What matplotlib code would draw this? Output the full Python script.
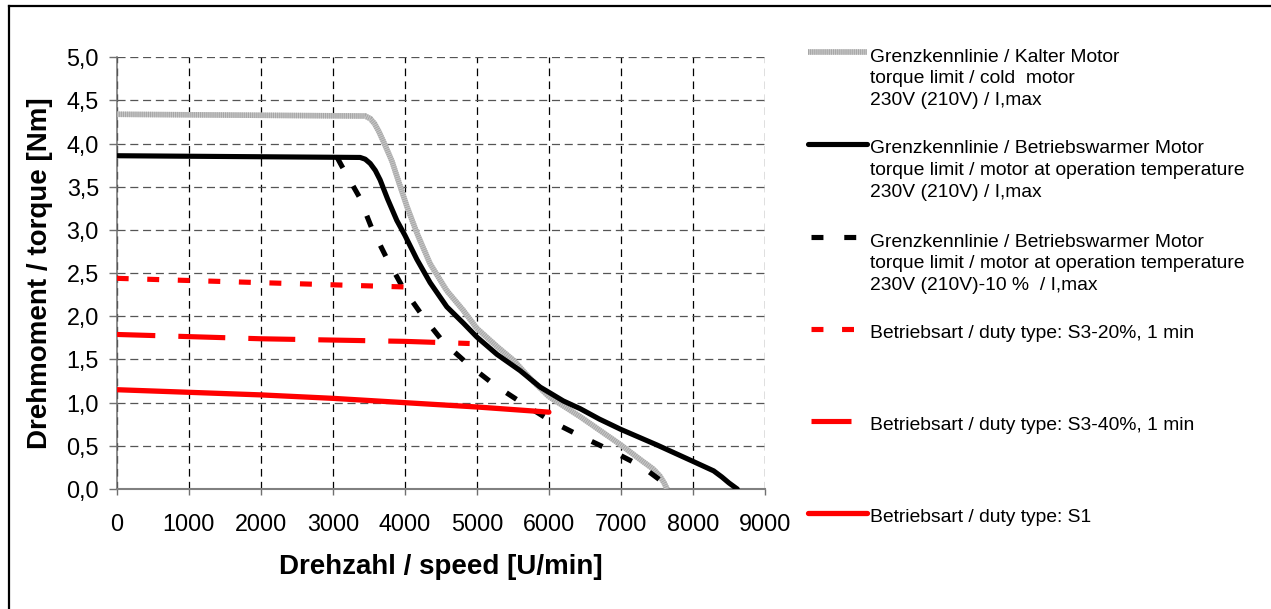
import matplotlib
matplotlib.use("Agg")
import matplotlib.pyplot as plt
from matplotlib.lines import Line2D
from matplotlib.ticker import FuncFormatter

plt.rcParams['font.family'] = ['Liberation Sans', 'DejaVu Sans']
plt.rcParams['lines.scale_dashes'] = False

# ---------------- data ----------------
speed_cold = [0, 3450, 3520, 3580, 3640, 3700, 3820, 3910, 4030, 4170, 4350, 4580, 4810,
              5000, 5280, 5510, 5740, 6000, 6430, 7000, 7270, 7450, 7540, 7600, 7640]
torque_cold = [4.34, 4.32, 4.29, 4.23, 4.14, 4.03, 3.80, 3.57, 3.27, 2.96, 2.61, 2.30, 2.07,
               1.86, 1.65, 1.49, 1.28, 1.07, 0.84, 0.51, 0.34, 0.23, 0.15, 0.07, 0.0]

speed_warm = [0, 3380, 3450, 3520, 3590, 3657, 3760, 3889, 4000, 4167, 4351, 4583, 4814,
              5000, 5278, 5602, 5879, 6000, 6200, 6435, 6700, 7000, 7500, 8000, 8287,
              8400, 8500, 8615]
torque_warm = [3.86, 3.84, 3.82, 3.77, 3.69, 3.58, 3.36, 3.11, 2.94, 2.66, 2.39, 2.11, 1.92,
               1.76, 1.56, 1.37, 1.18, 1.12, 1.02, 0.93, 0.81, 0.69, 0.51, 0.32, 0.21,
               0.14, 0.07, 0.0]

speed_warm10 = [3060, 3125, 3370, 3541, 3750, 3981, 4250, 4537, 4884, 5254, 5639,
                6042, 6458, 6875, 7292, 7710]
torque_warm10 = [3.84, 3.74, 3.38, 3.02, 2.67, 2.32, 2.00, 1.70, 1.44, 1.20, 0.99,
                 0.78, 0.605, 0.44, 0.26, 0.0]

speed_s3_20 = [0, 2000, 4000]
torque_s3_20 = [2.44, 2.39, 2.34]

speed_s3_40 = [0, 2000, 4000, 4900]
torque_s3_40 = [1.79, 1.74, 1.71, 1.685]

speed_s1 = [0, 1000, 2000, 3000, 4000, 5000, 6000]
torque_s1 = [1.15, 1.12, 1.09, 1.05, 1.00, 0.95, 0.89]

x_ticks = [0, 1000, 2000, 3000, 4000, 5000, 6000, 7000, 8000, 9000]
y_ticks = [0.0, 0.5, 1.0, 1.5, 2.0, 2.5, 3.0, 3.5, 4.0, 4.5, 5.0]

legend_labels = [
    ["Grenzkennlinie / Kalter Motor", "torque limit / cold  motor", "230V (210V) / I,max"],
    ["Grenzkennlinie / Betriebswarmer Motor", "torque limit / motor at operation temperature",
     "230V (210V) / I,max"],
    ["Grenzkennlinie / Betriebswarmer Motor", "torque limit / motor at operation temperature",
     "230V (210V)-10 %  / I,max"],
    ["Betriebsart / duty type: S3-20%, 1 min"],
    ["Betriebsart / duty type: S3-40%, 1 min"],
    ["Betriebsart / duty type: S1"],
]

# ---------------- figure ----------------
W, H = 1271, 609
fig = plt.figure(figsize=(W / 100, H / 100), dpi=100)
fig.patch.set_facecolor('white')

def fx(px):
    return px / W

def fy(py):
    return 1 - py / H

ax_l, ax_r, ax_t, ax_b = 116.7, 765.0, 57.3, 489.0
ax = fig.add_axes([fx(ax_l), fy(ax_b), (ax_r - ax_l) / W, (ax_b - ax_t) / H])

GRAY_BASE = '#c8c8c8'
GRAY_STRIPE = '#a6a6a6'
RED = '#ff0000'

# series styles
style_cold_base = dict(color=GRAY_BASE, lw=4.0, solid_capstyle='butt')
style_cold_stripe = dict(color=GRAY_STRIPE, lw=4.0, linestyle=(0, (0.75, 0.75)), dash_capstyle='butt')
style_warm = dict(color='black', lw=3.7, solid_capstyle='round', solid_joinstyle='round')
style_warm10 = dict(color='black', lw=3.7, linestyle=(0, (8.6, 15.0)), dash_capstyle='butt')
style_s3_20 = dict(color=RED, lw=3.7, linestyle=(0, (8.6, 13.4)), dash_capstyle='butt')
style_s3_40 = dict(color=RED, lw=3.7, linestyle=(6, (33.8, 16.6)), dash_capstyle='butt')
style_s1 = dict(color=RED, lw=3.8, solid_capstyle='round')

ax.plot(speed_cold, torque_cold, **style_cold_base, zorder=3)
ax.plot(speed_cold, torque_cold, **style_cold_stripe, zorder=3.1)
ax.plot(speed_warm, torque_warm, **style_warm, zorder=4)
ax.plot(speed_warm10, torque_warm10, **style_warm10, zorder=5)
ax.plot(speed_s3_20, torque_s3_20, **style_s3_20, zorder=6)
ax.plot(speed_s3_40, torque_s3_40, **style_s3_40, zorder=7)
ax.plot(speed_s1, torque_s1, **style_s1, zorder=8)

ax.set_xlim(0, 9000)
ax.set_ylim(0, 5)
ax.set_xticks(x_ticks)
ax.set_yticks(y_ticks)
ax.yaxis.set_major_formatter(FuncFormatter(lambda v, p: f"{v:.1f}".replace('.', ',')))

# grid
ax.xaxis.grid(True, color='black', lw=0.9, linestyle=(0, (5.5, 3.8)))
ax.yaxis.grid(True, color='#555555', lw=0.9, linestyle=(0, (5.8, 3.4)))
ax.set_axisbelow(True)

for s in ['top', 'right']:
    ax.spines[s].set_visible(False)
ax.spines['left'].set_color('#707070')
ax.spines['left'].set_linewidth(1.1)
ax.spines['bottom'].set_color('#808080')
ax.spines['bottom'].set_linewidth(1.5)

ax.tick_params(axis='y', direction='out', length=5.8, width=1.0, color='#707070',
               labelsize=16.8, pad=7.0, labelcolor='black')
ax.tick_params(axis='x', direction='out', length=4.3, width=1.0, color='#707070',
               labelsize=16.8, pad=13, labelcolor='black')

ax.set_xlabel("Drehzahl / speed [U/min]", fontsize=20, fontweight='bold')
ax.xaxis.set_label_coords(0.5, (ax_b - 567) / (ax_b - ax_t))
ax.xaxis.label.set_verticalalignment('center')
ax.set_ylabel("Drehmoment / torque [Nm]", fontsize=20, fontweight='bold')
ax.yaxis.set_label_coords((40 - ax_l) / (ax_r - ax_l), 0.5)
ax.yaxis.label.set_verticalalignment('center')

# ---------------- manual legend ----------------
handle_y = [51.7, 144.3, 236.7, 329.0, 420.7, 513.3]
baselines = [[61.7, 83.4, 105.1], [153.3, 175.0, 196.7], [246.7, 268.4, 290.1],
             [338.3], [430.0], [521.7]]
handle_styles = [None, style_warm, style_warm10, style_s3_20, style_s3_40, style_s1]
handle_x = [(808, 866.5), (808, 866.5), (811, 856), (811, 856), (811, 851), (808, 866.5)]

for i in range(6):
    x0, x1 = handle_x[i]
    yy = fy(handle_y[i])
    if i == 0:
        fig.add_artist(Line2D([fx(x0), fx(x1)], [yy, yy], transform=fig.transFigure, **style_cold_base))
        fig.add_artist(Line2D([fx(x0), fx(x1)], [yy, yy], transform=fig.transFigure, **style_cold_stripe))
    else:
        st = dict(handle_styles[i])
        if i == 4:
            st['linestyle'] = (0, (40 * 0.72, 20))
        fig.add_artist(Line2D([fx(x0), fx(x1)], [yy, yy], transform=fig.transFigure, **st))
    for line, b in zip(legend_labels[i], baselines[i]):
        fig.text(fx(870), fy(b), line, fontsize=13.9, va='baseline', ha='left', color='black')

# figure frame (top and left edges visible)
fig.add_artist(Line2D([fx(9), 1.0], [fy(6), fy(6)], transform=fig.transFigure, color='black', lw=1.6))
fig.add_artist(Line2D([fx(9), fx(9)], [fy(6), 0.0], transform=fig.transFigure, color='black', lw=1.6))

fig.savefig("out.png", dpi=100, facecolor='white')
